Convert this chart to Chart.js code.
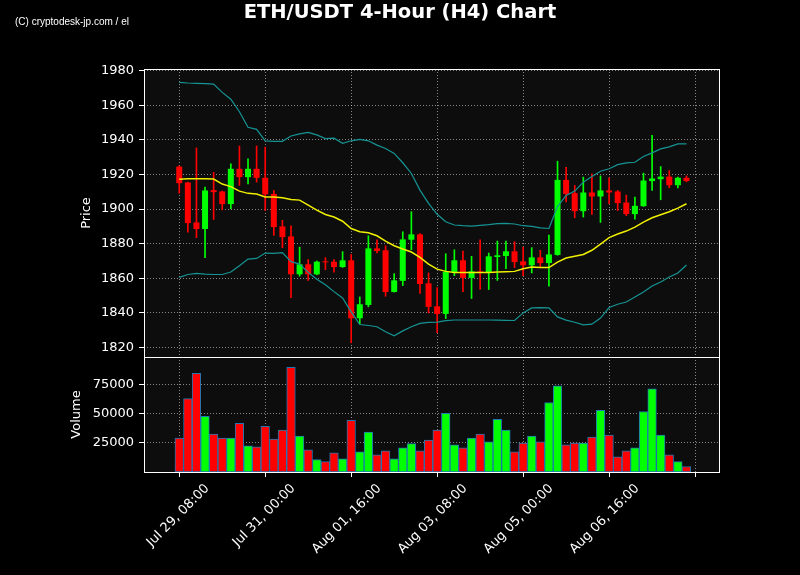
<!DOCTYPE html>
<html>
<head>
<meta charset="utf-8">
<script src="https://cdn.jsdelivr.net/npm/chart.js@4/dist/chart.umd.min.js"></script>
<style>
  html, body { margin: 0; padding: 0; background: #000; }
  #wrap { width: 800px; height: 575px; }
</style>
</head>
<body>
<div id="wrap"><canvas id="myChart" width="800" height="575"></canvas></div>
<script>
'use strict';

// ETH/USDT 4h candles, Jul 29 08:00 onwards
var opens  = [1924.6, 1915.4, 1892.3, 1888.5, 1911.0, 1910.2, 1902.9, 1923.3, 1918.5, 1923.3,
              1918.1, 1908.8, 1890.0, 1884.2, 1862.3, 1868.1, 1862.3, 1869.8, 1869.6, 1866.5,
              1870.4, 1836.9, 1844.6, 1877.3, 1876.2, 1852.1, 1858.5, 1882.3, 1885.4, 1857.1,
              1843.8, 1839.4, 1863.7, 1870.4, 1860.2, 1864.0, 1863.5, 1872.3, 1872.9, 1875.6,
              1869.8, 1867.5, 1872.1, 1868.8, 1873.5, 1916.9, 1909.2, 1898.8, 1909.6, 1907.3,
              1910.8, 1910.2, 1903.8, 1897.1, 1901.7, 1916.2, 1917.3, 1918.8, 1913.8, 1918.1];
var highs  = [1925.0, 1915.6, 1935.4, 1912.7, 1921.3, 1910.5, 1926.2, 1936.5, 1929.0, 1936.5,
              1935.8, 1910.8, 1893.5, 1890.4, 1878.0, 1870.8, 1870.0, 1871.9, 1870.8, 1875.4,
              1873.8, 1849.2, 1884.6, 1882.3, 1878.8, 1862.7, 1886.9, 1898.5, 1885.8, 1863.1,
              1854.6, 1874.2, 1876.5, 1875.8, 1872.7, 1882.3, 1874.6, 1881.5, 1881.5, 1881.2,
              1878.1, 1877.7, 1876.2, 1885.0, 1927.7, 1924.2, 1913.7, 1918.5, 1920.4, 1919.2,
              1918.1, 1910.8, 1908.1, 1906.9, 1920.8, 1942.7, 1924.6, 1922.3, 1918.5, 1919.2];
var lows   = [1909.2, 1886.7, 1883.5, 1871.9, 1894.0, 1899.6, 1900.2, 1913.7, 1914.6, 1915.6,
              1899.2, 1884.8, 1877.7, 1848.8, 1861.2, 1858.8, 1862.0, 1865.0, 1863.5, 1866.3,
              1822.7, 1833.5, 1843.5, 1874.6, 1849.6, 1852.0, 1855.8, 1876.5, 1851.2, 1840.0,
              1828.5, 1836.7, 1861.5, 1852.3, 1848.3, 1853.7, 1853.5, 1858.8, 1865.6, 1866.2,
              1861.5, 1863.1, 1866.5, 1855.4, 1873.3, 1904.2, 1895.0, 1895.4, 1896.9, 1892.3,
              1903.1, 1899.2, 1896.2, 1894.2, 1901.5, 1910.8, 1905.4, 1912.3, 1912.3, 1915.8];
var closes = [1915.0, 1891.9, 1888.5, 1910.8, 1909.8, 1902.9, 1923.3, 1918.5, 1923.3, 1918.1,
              1908.5, 1889.6, 1883.8, 1862.3, 1868.1, 1862.3, 1869.6, 1869.2, 1866.5, 1870.4,
              1836.9, 1845.0, 1877.3, 1875.8, 1852.1, 1858.8, 1882.5, 1885.4, 1856.7, 1843.5,
              1839.4, 1863.7, 1870.4, 1860.2, 1864.0, 1863.5, 1872.7, 1873.3, 1875.6, 1869.4,
              1867.5, 1872.1, 1868.8, 1873.8, 1916.9, 1908.8, 1898.8, 1909.6, 1907.3, 1910.8,
              1909.6, 1903.5, 1897.1, 1901.9, 1916.5, 1917.7, 1918.8, 1913.8, 1918.1, 1916.2];
var volumes = [29200, 63100, 84900, 47900, 32600, 29200, 29200, 42000, 22500, 21600,
               39400, 28400, 36000, 90000, 30900, 19100, 10600, 8900, 16500, 11400,
               44500, 17400, 34300, 14800, 18200, 11400, 20800, 24400, 18200, 27500,
               36000, 50400, 23300, 20800, 29200, 32600, 25900, 45300, 36000, 17400,
               25000, 30900, 25900, 59800, 74200, 23300, 25000, 25000, 30100, 53000,
               31800, 13100, 18200, 20800, 52100, 71600, 31800, 14800, 8900, 4700];

// Bollinger bands (20)
var bbUpper  = [1973.3, 1972.9, 1972.7, 1972.5, 1972.3, 1967.5, 1963.5, 1956.3, 1947.3, 1946.1,
                1939.4, 1939.2, 1939.2, 1942.3, 1943.5, 1944.4, 1942.9, 1940.8, 1941.0, 1938.0,
                1939.5, 1940.3, 1939.5, 1937.0, 1935.0, 1932.2, 1926.8, 1920.6, 1911.0, 1903.3,
                1897.0, 1892.7, 1890.8, 1890.4, 1890.2, 1890.6, 1891.0, 1891.6, 1891.8, 1891.4,
                1890.4, 1890.0, 1889.2, 1888.8, 1901.5, 1907.9, 1910.4, 1915.6, 1918.8, 1921.9,
                1923.3, 1925.7, 1926.7, 1927.1, 1930.4, 1932.5, 1934.8, 1936.0, 1937.7, 1937.7];
var bbMiddle = [1917.2, 1917.6, 1917.6, 1917.6, 1917.4, 1914.5, 1913.0, 1910.4, 1909.1, 1908.7,
                1907.0, 1907.0, 1906.6, 1905.6, 1905.2, 1902.3, 1899.4, 1896.9, 1895.4, 1893.0,
                1888.8, 1886.9, 1886.3, 1884.6, 1881.5, 1878.8, 1876.9, 1875.2, 1872.1, 1868.2,
                1865.3, 1864.0, 1863.4, 1863.4, 1863.4, 1863.4, 1863.4, 1863.6, 1863.8, 1864.0,
                1865.5, 1866.5, 1866.2, 1866.2, 1869.4, 1871.7, 1872.7, 1873.8, 1876.2, 1879.8,
                1883.5, 1885.6, 1887.3, 1889.6, 1892.5, 1895.0, 1896.7, 1898.5, 1900.6, 1903.1];
var bbLower  = [1860.5, 1862.2, 1862.8, 1862.4, 1862.2, 1862.2, 1863.6, 1867.3, 1871.1, 1871.5,
                1874.6, 1874.4, 1874.8, 1869.6, 1868.2, 1863.4, 1859.5, 1856.3, 1852.3, 1848.6,
                1840.6, 1833.3, 1832.7, 1832.0, 1829.1, 1826.8, 1829.6, 1832.0, 1833.9, 1834.5,
                1834.7, 1835.5, 1835.9, 1835.9, 1835.9, 1835.9, 1835.9, 1835.8, 1835.7, 1835.6,
                1840.0, 1842.9, 1843.1, 1842.9, 1837.7, 1835.8, 1834.6, 1833.1, 1833.5, 1837.0,
                1843.1, 1845.0, 1846.3, 1849.2, 1852.1, 1855.6, 1857.9, 1860.8, 1863.1, 1867.7];

var xTickPos = [0, 10, 20, 30, 40, 50, 60];
var xTickLabels = ['Jul 29, 08:00', 'Jul 31, 00:00', 'Aug 01, 16:00', 'Aug 03, 08:00',
                   'Aug 05, 00:00', 'Aug 06, 16:00', ''];
var priceTicks = [1820, 1840, 1860, 1880, 1900, 1920, 1940, 1960, 1980];
var volumeTicks = [25000, 50000, 75000];

var up = '#00ff00';
var down = '#ff0000';
var candleColors = opens.map(function (o, i) { return closes[i] >= o ? up : down; });

function pts(arr) {
    return arr.map(function (v, i) { return { x: i, y: v }; });
}
function spans(a, b) {
    return a.map(function (v, i) { return { x: i, y: [v, b[i]] }; });
}
function fixTicks(list) {
    return function (scale) {
        scale.ticks = list.map(function (v) { return { value: v }; });
    };
}
function plain(v) { return String(v); }

var tickFont = { family: 'DejaVu Sans', size: 13 };
var gridColor = 'rgba(200,200,200,0.65)';
var gridOpts = {
    color: gridColor, lineWidth: 1, offset: false,
    tickColor: '#ffffff', tickLength: 5, tickBorderDash: []
};
var borderOpts = { display: false, dash: [1, 2] };

var panels = {
    id: 'panels',
    beforeDraw: function (chart) {
        var c = chart.ctx, a = chart.chartArea;
        c.save();
        c.fillStyle = '#000';
        c.fillRect(0, 0, chart.width, chart.height);
        c.fillStyle = '#0d0d0d';
        c.fillRect(a.left, a.top, a.right - a.left, a.bottom - a.top);
        c.restore();
    },
    afterDraw: function (chart) {
        var c = chart.ctx, a = chart.chartArea;
        var py = chart.scales.y, vy = chart.scales.yv;
        c.save();
        c.strokeStyle = '#ffffff';
        c.lineWidth = 1;
        [py, vy].forEach(function (s) {
            c.strokeRect(a.left + 0.5, Math.round(s.top) + 0.5, a.right - a.left - 1, Math.round(s.bottom - s.top));
        });

        c.fillStyle = '#ffffff';
        c.textAlign = 'center';
        c.textBaseline = 'alphabetic';
        c.font = 'bold 19.5px "DejaVu Sans"';
        c.fillText('ETH/USDT 4-Hour (H4) Chart', 400, 18);

        c.textAlign = 'left';
        c.font = '10px "Liberation Sans"';
        c.fillText('(C) cryptodesk-jp.com / el', 15, 25);

        c.font = '13px "DejaVu Sans"';
        c.textAlign = 'center';
        c.textBaseline = 'middle';
        c.translate(a.left - 57, (py.top + py.bottom) / 2);
        c.rotate(-Math.PI / 2);
        c.fillText('Price', 0, 0);
        c.setTransform(1, 0, 0, 1, 0, 0);
        c.translate(a.left - 67, (vy.top + vy.bottom) / 2);
        c.rotate(-Math.PI / 2);
        c.fillText('Volume', 0, 0);
        c.restore();
    }
};

var ctx = document.getElementById('myChart').getContext('2d');
var myChart = new Chart(ctx, {
    type: 'bar',
    data: {
        datasets: [
            {
                type: 'line', label: 'Upper', data: pts(bbUpper), yAxisID: 'y',
                borderColor: '#169494', borderWidth: 1.2, pointRadius: 0, order: 0
            },
            {
                type: 'line', label: 'SMA', data: pts(bbMiddle), yAxisID: 'y',
                borderColor: '#f0f000', borderWidth: 1.5, pointRadius: 0, order: 0
            },
            {
                type: 'line', label: 'Lower', data: pts(bbLower), yAxisID: 'y',
                borderColor: '#169494', borderWidth: 1.2, pointRadius: 0, order: 0
            },
            {
                label: 'Wick', data: spans(lows, highs), yAxisID: 'y',
                backgroundColor: candleColors, barThickness: 1, grouped: false, order: 2
            },
            {
                label: 'Body', data: spans(opens, closes), yAxisID: 'y',
                backgroundColor: candleColors, barPercentage: 0.7, categoryPercentage: 1,
                grouped: false, order: 1
            },
            {
                label: 'Volume', data: pts(volumes), yAxisID: 'yv',
                backgroundColor: candleColors, borderColor: '#1f77b4', borderWidth: 1,
                borderSkipped: false, barPercentage: 1, categoryPercentage: 1,
                grouped: false, order: 1
            }
        ]
    },
    options: {
        responsive: false,
        animation: false,
        events: [],
        layout: { padding: { top: 69, right: 80, left: 0, bottom: 0 } },
        plugins: { legend: { display: false }, tooltip: { enabled: false } },
        scales: {
            x: {
                type: 'linear', min: -4.1, max: 62.9, offset: false,
                afterBuildTicks: fixTicks(xTickPos),
                afterFit: function (s) { s.height = 103; },
                border: borderOpts,
                grid: gridOpts,
                ticks: {
                    color: '#ffffff', font: tickFont, autoSkip: false,
                    minRotation: 45, maxRotation: 45, labelOffset: 28, padding: 4,
                    callback: function (v) {
                        var k = xTickPos.indexOf(v);
                        return k < 0 ? '' : xTickLabels[k];
                    }
                }
            },
            y: {
                type: 'linear', position: 'left', stack: 'main', stackWeight: 288, weight: 2,
                min: 1814.5, max: 1981,
                afterBuildTicks: fixTicks(priceTicks),
                afterFit: function (s) { s.width = 144; },
                border: borderOpts,
                grid: gridOpts,
                ticks: { color: '#ffffff', font: tickFont, padding: 5, callback: plain }
            },
            yv: {
                type: 'linear', position: 'left', stack: 'main', stackWeight: 115, weight: 1,
                min: 0, max: 99000,
                afterBuildTicks: fixTicks(volumeTicks),
                afterFit: function (s) { s.width = 144; },
                border: borderOpts,
                grid: gridOpts,
                ticks: { color: '#ffffff', font: tickFont, padding: 5, callback: plain }
            }
        }
    },
    plugins: [panels]
});
</script>
</body>
</html>
